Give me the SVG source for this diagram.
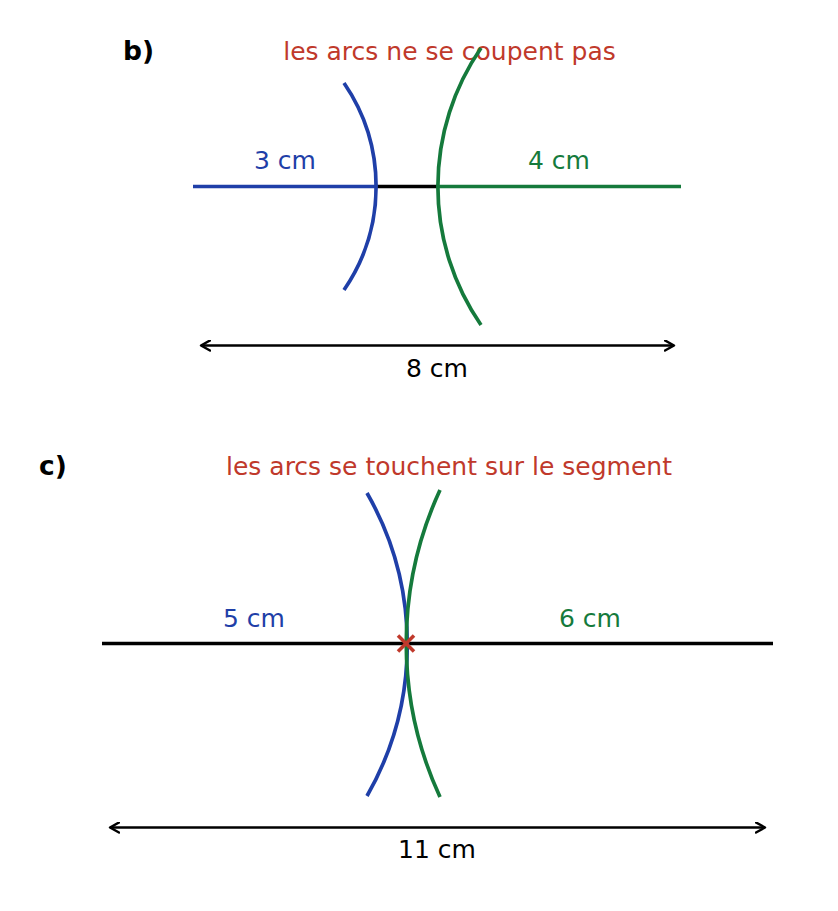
<svg xmlns="http://www.w3.org/2000/svg" width="838" height="911" viewBox="0 0 838 911">
<style>
text{font-family:"DejaVu Sans",sans-serif}
.lbl{font-size:25px;text-anchor:middle}
.ttl{font-size:25px;text-anchor:middle;fill:#c0392b}
.hd{font-size:26.5px;font-weight:bold;fill:#000}
.blue{stroke:#1f3fa8;fill:none;stroke-width:3.7}
.green{stroke:#157a3c;fill:none;stroke-width:3.7}
.blk{stroke:#000;fill:none;stroke-width:3.7}
.dim{stroke:#000;fill:none;stroke-width:2.5;marker-start:url(#ah);marker-end:url(#ah)}
</style>
<defs>
<marker id="ah" viewBox="0 0 12 12" refX="10" refY="6" markerWidth="12" markerHeight="12" markerUnits="userSpaceOnUse" orient="auto-start-reverse">
<path d="M1,1 L10,6 L1,11" fill="none" stroke="#000" stroke-width="2.5" stroke-linejoin="round" stroke-linecap="round"/>
</marker>
</defs>
<g id="part-b">
<text class="hd" x="123" y="60">b)</text>
<text class="ttl" x="449.5" y="60">les arcs ne se coupent pas</text>
<g id="segment-b">
<line class="blk" x1="376" y1="186.5" x2="437" y2="186.5"/>
<line class="blue" x1="193" y1="186.5" x2="376" y2="186.5"/>
<line class="green" x1="437" y1="186.5" x2="681" y2="186.5"/>
</g>
<g id="arc-b-blue"><path class="blue" d="M344,83 A183,183 0 0 1 344,290"/></g>
<g id="arc-b-green"><path class="green" d="M481,48 A244,244 0 0 0 481,325"/></g>
<text class="lbl" x="285" y="169" fill="#1f3fa8">3 cm</text>
<text class="lbl" x="559" y="169" fill="#157a3c">4 cm</text>
<g id="dim-b"><line class="dim" x1="201" y1="345.5" x2="674" y2="345.5"/></g>
<text class="lbl" x="437" y="377" fill="#000">8 cm</text>
</g>
<g id="part-c">
<text class="hd" x="39" y="475">c)</text>
<text class="ttl" x="449" y="475">les arcs se touchent sur le segment</text>
<g id="segment-c"><line class="blk" x1="102" y1="643.5" x2="773" y2="643.5"/></g>
<g id="arc-c-blue"><path class="blue" d="M367,493 A305,305 0 0 1 367,796"/></g>
<g id="arc-c-green"><path class="green" d="M440,490 A366,366 0 0 0 440,797"/></g>
<g id="cross-c" stroke="#c0392b" stroke-width="3.5"><line x1="398" y1="635.5" x2="414" y2="651.5"/><line x1="414" y1="635.5" x2="398" y2="651.5"/></g>
<text class="lbl" x="254" y="627" fill="#1f3fa8">5 cm</text>
<text class="lbl" x="590" y="627" fill="#157a3c">6 cm</text>
<g id="dim-c"><line class="dim" x1="110" y1="827.5" x2="765" y2="827.5"/></g>
<text class="lbl" x="437" y="858" fill="#000">11 cm</text>
</g>
</svg>
